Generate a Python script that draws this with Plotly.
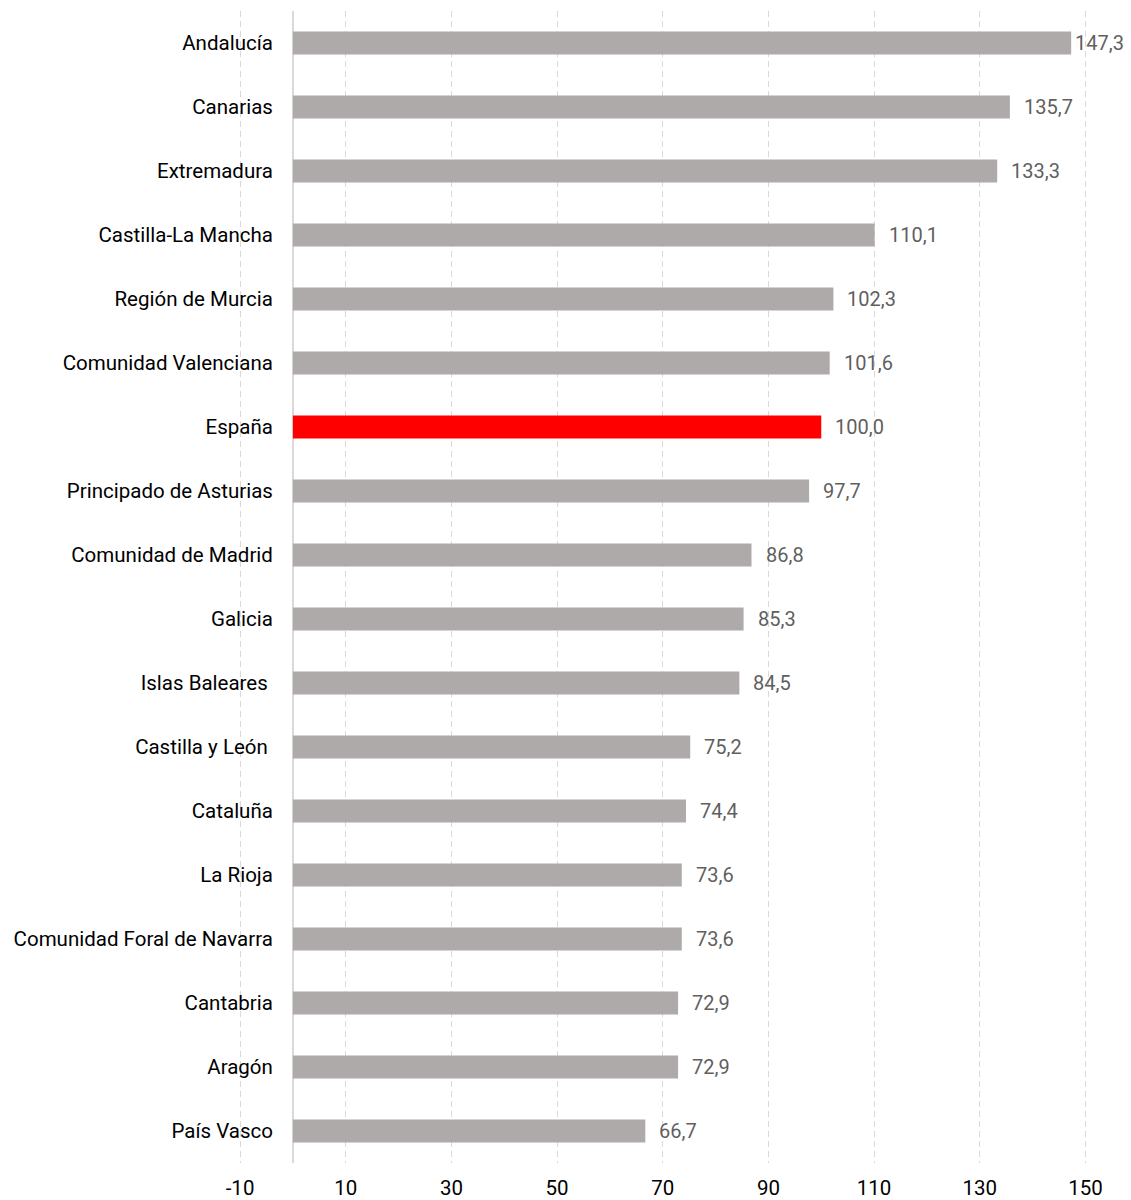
import plotly.graph_objects as go

regions = ["Andalucía", "Canarias", "Extremadura", "Castilla-La Mancha", "Región de Murcia",
           "Comunidad Valenciana", "España", "Principado de Asturias", "Comunidad de Madrid",
           "Galicia", "Islas Baleares\u00a0", "Castilla y León\u00a0", "Cataluña", "La Rioja",
           "Comunidad Foral de Navarra", "Cantabria", "Aragón", "País Vasco"]
values = [147.3, 135.7, 133.3, 110.1, 102.3, 101.6, 100.0, 97.7, 86.8, 85.3, 84.5,
          75.2, 74.4, 73.6, 73.6, 72.9, 72.9, 66.7]
tick_vals = [-10, 10, 30, 50, 70, 90, 110, 130, 150]
highlight = "España"

GRAY = "#aeaaaa"
RED = "#ff0000"
FONT = "Roboto"

colors = [RED if r == highlight else GRAY for r in regions]

fig = go.Figure()
fig.add_trace(go.Bar(
    x=values, y=regions, orientation="h",
    marker=dict(color=colors, line=dict(width=0)),
    width=0.36, hoverinfo="skip",
))

annotations = []
for r, v in zip(regions, values):
    annotations.append(dict(
        x=v, y=r, xref="x", yref="y", text=f"{v:.1f}".replace(".", ","),
        showarrow=False, xanchor="left", yanchor="middle",
        xshift=2 if v > 145 else 12,
        font=dict(family=FONT, size=20, color="#5f5f5f"),
    ))

x_min, x_max = -10.2, 152
L, R, T, B = 239, 35, 11, 37
W, H = 1131, 1200
ypos = (0 - x_min) / (x_max - x_min)

fig.update_layout(
    width=W, height=H,
    margin=dict(l=L, r=R, t=T, b=B, autoexpand=False),
    plot_bgcolor="white", paper_bgcolor="white",
    showlegend=False,
    font=dict(family=FONT, size=20.5, color="#000000"),
    annotations=annotations,
    xaxis=dict(
        range=[x_min, x_max], tickmode="array", tickvals=tick_vals,
        ticktext=[str(t) for t in tick_vals],
        showgrid=True, gridcolor="#d9d9d9", griddash="6px,4px", gridwidth=1,
        zeroline=True, zerolinecolor="#d9d9d9", zerolinewidth=1.5,
        showline=False, ticks="", ticklabelstandoff=10,
        tickfont=dict(family=FONT, size=20.5, color="#000000"),
        fixedrange=True,
    ),
    yaxis=dict(
        type="category", categoryorder="array", categoryarray=regions,
        autorange="reversed", anchor="free", position=ypos,
        showgrid=False, showline=False, zeroline=False, ticks="",
        ticklabelstandoff=20,
        tickfont=dict(family=FONT, size=20.5, color="#000000"),
        fixedrange=True,
    ),
)

fig.write_html("out.html", config={"displayModeBar": False},
               post_script="document.body.style.margin='0';")
